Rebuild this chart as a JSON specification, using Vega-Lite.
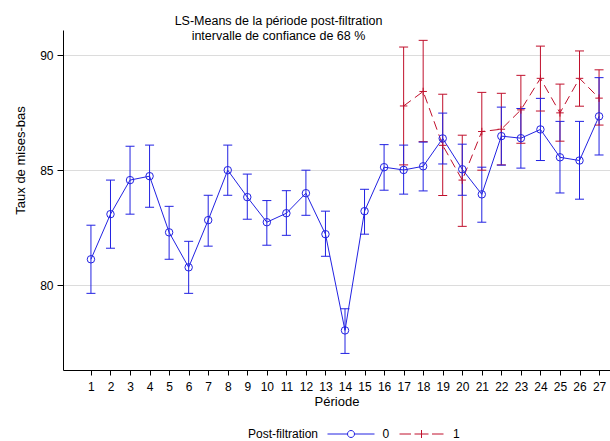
{
  "$schema": "https://vega.github.io/schema/vega-lite/v6.json",
  "width": 547,
  "height": 340,
  "autosize": "none",
  "padding": {"left": 63, "top": 30, "right": 0, "bottom": 71},
  "background": "white",
  "config": {
    "font": "Liberation Sans",
    "view": {"stroke": null},
    "axis": {"domainColor": "black", "tickColor": "black", "labelColor": "black", "titleColor": "black", "titleFontWeight": "normal"}
  },
  "title": {
    "text": ["LS-Means de la période post-filtration", "intervalle de confiance de 68 %"],
    "fontSize": 12.5,
    "fontWeight": "normal",
    "color": "black",
    "anchor": "middle",
    "frame": "group",
    "dx": -58,
    "offset": -12,
    "lineHeight": 15
  },
  "data": {
    "values": [
      {"p": 17, "g": "1", "mean": 87.79, "lo": 85.23, "hi": 90.35},
      {"p": 18, "g": "1", "mean": 88.42, "lo": 86.24, "hi": 90.64},
      {"p": 19, "g": "1", "mean": 86.08, "lo": 83.90, "hi": 88.30},
      {"p": 20, "g": "1", "mean": 84.57, "lo": 82.56, "hi": 86.52},
      {"p": 21, "g": "1", "mean": 86.68, "lo": 85.00, "hi": 88.38},
      {"p": 22, "g": "1", "mean": 86.78, "lo": 85.23, "hi": 88.34},
      {"p": 23, "g": "1", "mean": 87.62, "lo": 86.17, "hi": 89.12},
      {"p": 24, "g": "1", "mean": 88.99, "lo": 87.57, "hi": 90.39},
      {"p": 25, "g": "1", "mean": 87.49, "lo": 86.26, "hi": 88.74},
      {"p": 26, "g": "1", "mean": 88.99, "lo": 87.78, "hi": 90.18},
      {"p": 27, "g": "1", "mean": 88.13, "lo": 86.96, "hi": 89.36},
      {"p": 1, "g": "0", "mean": 81.13, "lo": 79.65, "hi": 82.61},
      {"p": 2, "g": "0", "mean": 83.09, "lo": 81.61, "hi": 84.57},
      {"p": 3, "g": "0", "mean": 84.57, "lo": 83.09, "hi": 86.04},
      {"p": 4, "g": "0", "mean": 84.74, "lo": 83.39, "hi": 86.09},
      {"p": 5, "g": "0", "mean": 82.30, "lo": 81.13, "hi": 83.43},
      {"p": 6, "g": "0", "mean": 80.78, "lo": 79.65, "hi": 81.91},
      {"p": 7, "g": "0", "mean": 82.83, "lo": 81.70, "hi": 83.91},
      {"p": 8, "g": "0", "mean": 85.00, "lo": 83.91, "hi": 86.09},
      {"p": 9, "g": "0", "mean": 83.83, "lo": 82.87, "hi": 84.83},
      {"p": 10, "g": "0", "mean": 82.74, "lo": 81.74, "hi": 83.68},
      {"p": 11, "g": "0", "mean": 83.13, "lo": 82.17, "hi": 84.11},
      {"p": 12, "g": "0", "mean": 84.00, "lo": 83.04, "hi": 85.00},
      {"p": 13, "g": "0", "mean": 82.22, "lo": 81.26, "hi": 83.22},
      {"p": 14, "g": "0", "mean": 78.04, "lo": 77.04, "hi": 78.98},
      {"p": 15, "g": "0", "mean": 83.22, "lo": 82.22, "hi": 84.17},
      {"p": 16, "g": "0", "mean": 85.13, "lo": 84.13, "hi": 86.11},
      {"p": 17, "g": "0", "mean": 85.01, "lo": 83.96, "hi": 86.09},
      {"p": 18, "g": "0", "mean": 85.17, "lo": 84.10, "hi": 86.22},
      {"p": 19, "g": "0", "mean": 86.38, "lo": 85.27, "hi": 87.48},
      {"p": 20, "g": "0", "mean": 85.04, "lo": 83.91, "hi": 86.13},
      {"p": 21, "g": "0", "mean": 83.95, "lo": 82.74, "hi": 85.13},
      {"p": 22, "g": "0", "mean": 86.48, "lo": 85.22, "hi": 87.74},
      {"p": 23, "g": "0", "mean": 86.39, "lo": 85.09, "hi": 87.68},
      {"p": 24, "g": "0", "mean": 86.77, "lo": 85.42, "hi": 88.12},
      {"p": 25, "g": "0", "mean": 85.56, "lo": 84.01, "hi": 87.12},
      {"p": 26, "g": "0", "mean": 85.42, "lo": 83.74, "hi": 87.12},
      {"p": 27, "g": "0", "mean": 87.34, "lo": 85.66, "hi": 89.02}
    ]
  },
  "encoding": {
    "x": {
      "field": "p",
      "type": "quantitative",
      "scale": {"domain": [-0.43, 27.56], "nice": false, "zero": false},
      "axis": {
        "values": [1,2,3,4,5,6,7,8,9,10,11,12,13,14,15,16,17,18,19,20,21,22,23,24,25,26,27],
        "format": "d",
        "title": "Période",
        "grid": false,
        "tickSize": 5,
        "labelPadding": 6,
        "labelFontSize": 12,
        "labelOverlap": false,
        "labelFlush": false,
        "titleFontSize": 13,
        "titlePadding": 3
      }
    },
    "color": {
      "field": "g",
      "type": "nominal",
      "scale": {"domain": ["0", "1"], "range": ["#2222e2", "#c0102c"]},
      "legend": {
        "orient": "none",
        "legendX": 185,
        "legendY": 398,
        "direction": "horizontal",
        "title": "Post-filtration",
        "titleOrient": "left",
        "titleFontSize": 12,
        "titleFontWeight": "normal",
        "titleColor": "black",
        "titlePadding": 26,
        "titleBaseline": "middle",
        "labelFontSize": 12,
        "labelColor": "black",
        "labelOffset": 25.5,
        "columnPadding": 7.5,
        "symbolSize": 100,
        "symbolStrokeWidth": 1,
        "encode": {
          "symbols": {
            "update": {
              "shape": {"signal": "datum.value === '0' ? 'M-4.7,0L-0.7,0M0.7,0L4.7,0M-0.7,0A0.7,0.7,0,1,1,0.7,0A0.7,0.7,0,1,1,-0.7,0' : 'M-4.4,0L-2.1,0M-1.4,0L1.4,0M0,-0.8L0,0.8M2.1,0L4.4,0'"},
              "fill": {"value": "transparent"},
              "strokeWidth": {"value": 1}
            }
          }
        }
      }
    }
  },
  "layer": [
    {
      "mark": {"type": "rule", "strokeWidth": 1},
      "encoding": {
        "y": {
          "field": "lo",
          "type": "quantitative",
          "scale": {"domain": [76.32, 91.09], "nice": false, "zero": false},
          "axis": {
            "values": [80, 85, 90],
            "title": "Taux de mises-bas",
            "titleFontSize": 13,
            "titleX": -36,
            "titleY": 130,
            "labelFontSize": 12,
            "tickSize": 6,
            "labelPadding": 4,
            "grid": true,
            "gridColor": "#dcdcdc"
          }
        },
        "y2": {"field": "hi"}
      }
    },
    {
      "mark": {"type": "rule", "strokeWidth": 1, "xOffset": -4.5, "x2Offset": 4.5},
      "encoding": {"x2": {"field": "p"}, "y": {"field": "lo", "type": "quantitative"}}
    },
    {
      "mark": {"type": "rule", "strokeWidth": 1, "xOffset": -4.5, "x2Offset": 4.5},
      "encoding": {"x2": {"field": "p"}, "y": {"field": "hi", "type": "quantitative"}}
    },
    {
      "transform": [{"filter": "datum.g === '1'"}],
      "mark": {"type": "line", "strokeWidth": 1, "strokeDash": [9, 5]},
      "encoding": {"y": {"field": "mean", "type": "quantitative"}}
    },
    {
      "transform": [{"filter": "datum.g === '0'"}],
      "mark": {"type": "line", "strokeWidth": 1},
      "encoding": {"y": {"field": "mean", "type": "quantitative"}}
    },
    {
      "transform": [{"filter": "datum.g === '1'"}],
      "mark": {"type": "point", "filled": false, "strokeWidth": 1, "size": 56, "opacity": 1, "shape": "M-1,0L1,0M0,-1L0,1"},
      "encoding": {"y": {"field": "mean", "type": "quantitative"}}
    },
    {
      "transform": [{"filter": "datum.g === '0'"}],
      "mark": {"type": "point", "filled": false, "strokeWidth": 1, "size": 56, "opacity": 1, "shape": "circle"},
      "encoding": {"y": {"field": "mean", "type": "quantitative"}}
    }
  ]
}
